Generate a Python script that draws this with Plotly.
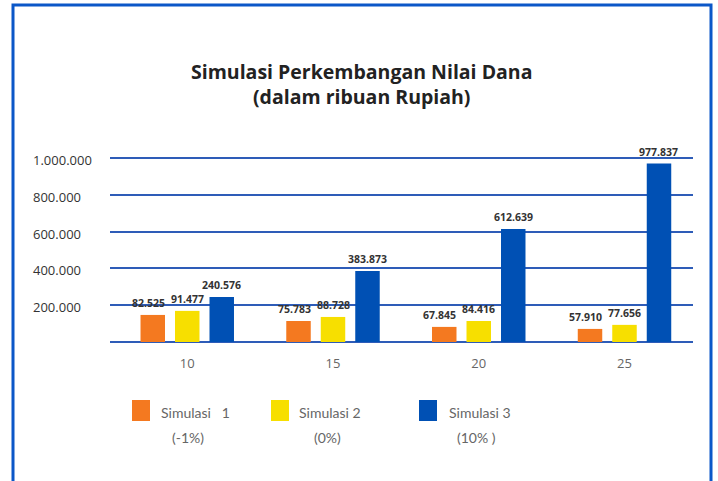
import plotly.graph_objects as go

# ---- data ----
categories = ["10", "15", "20", "25"]
series_names = ["Simulasi   1", "Simulasi 2", "Simulasi 3"]
series_notes = ["(-1%)", "(0%)", "(10% )"]
# bar heights as drawn in the picture (Rupiah, thousands)
sim1_values = [147000, 114000, 82000, 71000]
sim2_values = [169000, 136000, 114000, 93000]
sim3_values = [245000, 385000, 614000, 969000]
# data labels printed above the bars
sim1_labels = [82525, 75783, 67845, 57910]
sim2_labels = [91477, 88728, 84416, 77656]
sim3_labels = [240576, 383873, 612639, 977837]
y_tickvals = [0, 200000, 400000, 600000, 800000, 1000000]
y_ticktext = ["", "200.000", "400.000", "600.000", "800.000", "1.000.000"]
colors = ["#F47920", "#F7DF00", "#0050B4"]

title_lines = ["Simulasi Perkembangan Nilai Dana", "(dalam ribuan Rupiah)"]


def fmt(v):
    return f"{v:,}".replace(",", ".")


W, H = 718, 481
L, R, T, B = 110, 25, 156, 139
PW, PH = W - L - R, H - T - B
BARGAP = 0.29
X_RANGE = [-0.53, 3.47]


def px_x(x):
    return (x - L) / PW


def px_y(y):
    return (H - B - y) / PH


fig = go.Figure()
all_vals = [sim1_values, sim2_values, sim3_values]
all_labs = [sim1_labels, sim2_labels, sim3_labels]
for name, vals, col in zip(series_names, all_vals, colors):
    fig.add_trace(go.Bar(
        x=categories, y=vals, name=name,
        marker=dict(color=col, line=dict(width=0)),
        showlegend=False, hoverinfo="skip",
    ))

annotations = []
# data labels above bars (shifted to each bar's slot inside the group)
unit_px = PW / (X_RANGE[1] - X_RANGE[0])
slot_px = unit_px * (1 - BARGAP) / 3
label_extra_shift = [-4.5, 0, 0]
for si, (vals, labs) in enumerate(zip(all_vals, all_labs)):
    for ci, (v, lab) in enumerate(zip(vals, labs)):
        annotations.append(dict(
            text="<b>" + fmt(lab) + "</b>", xref="x", yref="y", x=ci, y=v,
            xanchor="center", yanchor="bottom", yshift=3,
            xshift=(si - 1) * slot_px + label_extra_shift[si],
            showarrow=False, font=dict(family="Open Sans", size=10.5, color="#333333"),
        ))
# title
annotations.append(dict(
    text="<b>" + title_lines[0] + "</b><br><b>" + title_lines[1] + "</b>",
    xref="paper", yref="paper", x=px_x(361), y=px_y(84), xanchor="center", yanchor="middle",
    showarrow=False, font=dict(family="Open Sans", size=19.5, color="#222222"),
))
# y tick labels (left aligned)
for v, t in zip(y_tickvals, y_ticktext):
    if t:
        annotations.append(dict(
            text=t, xref="paper", yref="y", x=px_x(31), y=v, xanchor="left", yanchor="middle",
            yshift=-2, showarrow=False, font=dict(family="Open Sans", size=13, color="#333333"),
        ))

# custom legend
shapes = []
leg_sq_x = [132, 271, 419]
leg_txt_x = [159, 297, 447]
leg_note_x = [188, 327, 476]
for i in range(3):
    shapes.append(dict(type="rect", xref="paper", yref="paper",
                       x0=px_x(leg_sq_x[i]), x1=px_x(leg_sq_x[i] + 18),
                       y0=px_y(421), y1=px_y(400),
                       fillcolor=colors[i], line=dict(width=0)))
    annotations.append(dict(text=series_names[i].replace("   ", "&nbsp;&nbsp;&nbsp;"),
                            xref="paper", yref="paper",
                            x=px_x(leg_txt_x[i]), y=px_y(412), xanchor="left", yanchor="middle",
                            showarrow=False, font=dict(family="Lato", size=14, color="#666666")))
    annotations.append(dict(text=series_notes[i], xref="paper", yref="paper",
                            x=px_x(leg_note_x[i]), y=px_y(437), xanchor="center", yanchor="middle",
                            showarrow=False, font=dict(family="Lato", size=14, color="#666666")))

# outer border (open at bottom)
shapes.append(dict(type="path", xref="paper", yref="paper",
                   path=f"M {px_x(13)} {px_y(495)} L {px_x(13)} {px_y(5)} L {px_x(711)} {px_y(5)} L {px_x(711)} {px_y(495)}",
                   line=dict(color="#0B57C8", width=3)))

fig.update_layout(
    width=W, height=H,
    margin=dict(l=L, r=R, t=T, b=B, pad=0),
    paper_bgcolor="white", plot_bgcolor="white",
    barmode="group", bargap=BARGAP, bargroupgap=0.29,
    annotations=annotations, shapes=shapes,
    xaxis=dict(type="category", range=X_RANGE, showgrid=False, showline=False,
               zeroline=False, ticks="", ticklabelstandoff=12,
               tickfont=dict(family="Open Sans", size=13, color="#666666")),
    yaxis=dict(range=[0, 1010000], tickvals=y_tickvals, showticklabels=False,
               showgrid=True, gridcolor="#2E5CB8", gridwidth=1.5,
               zeroline=True, zerolinecolor="#2E5CB8", zerolinewidth=1.5,
               showline=False, ticks=""),
    font=dict(family="Open Sans"),
)

fig.write_html("out.html", config={"displayModeBar": False},
               post_script="document.body.style.margin='0';document.body.style.padding='0';")
